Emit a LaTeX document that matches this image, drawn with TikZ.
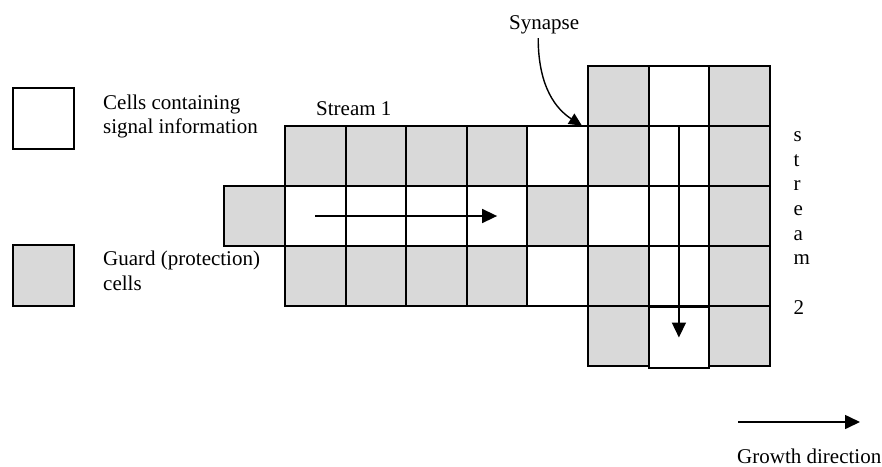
\documentclass[tikz,border=0pt]{standalone}
\usepackage{fontspec}
\setmainfont{Liberation Serif}
\usetikzlibrary{arrows.meta}
\definecolor{gcol}{RGB}{217,217,217}
\begin{document}
\begin{tikzpicture}[x=1pt,y=-1pt,
  cell/.style={draw=black,line width=1.9pt,minimum size=60.6pt,inner sep=0pt,outer sep=0pt},
  guard/.style={cell,fill=gcol},
  sig/.style={cell,fill=white},
  lbl/.style={inner sep=0pt,anchor=base west,font=\fontsize{21}{25}\selectfont},
  arr/.style={line width=1.6pt,-{Triangle[length=15pt,width=14pt]}},
  synarr/.style={line width=1.4pt,-{Triangle[length=13pt,width=12pt]}},
]
\useasboundingbox (0,0) rectangle (882,466);

% legend
\node[sig] (legS) at (43.5,118.5) {};
\node[guard] (legG) at (43.5,275.5) {};
\node[lbl] (t1a) at (103,109.3) {Cells containing};
\node[lbl] (t1b) at (103,133) {signal information};
\node[lbl] (t2a) at (103,265.5) {Guard (protection)};
\node[lbl] (t2b) at (103,290.5) {cells};

% stream 1
\node[guard] (cL) at (254.7,216) {};
\foreach \i in {0,...,3}{
  \node[guard] (c\i1) at ({315.3+60.6*\i},156) {};
  \node[sig]   (c\i2) at ({315.3+60.6*\i},216) {};
  \node[guard] (c\i3) at ({315.3+60.6*\i},276) {};
}
\node[sig]   (c41) at (557.7,156) {};
\node[guard] (c42) at (557.7,216) {};
\node[sig]   (c43) at (557.7,276) {};

% stream 2
\node[guard] (c50) at (618.3,96) {};
\node[guard] (c51) at (618.3,156) {};
\node[sig]   (c52) at (618.3,216) {};
\node[guard] (c53) at (618.3,276) {};
\node[guard] (c54) at (618.3,336) {};
\node[sig] (c60) at (678.9,96) {};
\node[sig] (c61) at (678.9,156) {};
\node[sig] (c62) at (678.9,216) {};
\node[sig] (c63) at (678.9,276) {};
\node[sig] (c64) at (678.9,337.5) {};
\foreach \j in {0,...,4}{
  \node[guard] (c7\j) at (739.5,{96+60*\j}) {};
}

% labels
\node[lbl] (st1) at (316,115) {Stream 1};
\node[lbl] (syn) at (509,29.5) {Synapse};
\node[lbl] (v1) at (793.5,141.7) {s};
\node[lbl] (v2) at (793.5,166.3) {t};
\node[lbl] (v3) at (793.5,190.9) {r};
\node[lbl] (v4) at (793.5,215.5) {e};
\node[lbl] (v5) at (793.5,240.1) {a};
\node[lbl] (v6) at (793.5,264.7) {m};
\node[lbl] (v7) at (793.5,314.5) {2};
\node[lbl] (gd) at (737,463) {Growth direction};

% arrows
\draw[arr] (c02.center) -- (c32.center);
\draw[arr] (c61.north) -- (c64.center);
\draw[synarr] ([xshift=-6pt,yshift=-4pt]syn.south) .. controls +(0,50) and +(-25,-16) .. ([xshift=-6pt]c41.north east);
\coordinate (g1) at (738,422);
\coordinate (g2) at (860,422);
\draw[arr] (g1) -- (g2);
\end{tikzpicture}
\end{document}
